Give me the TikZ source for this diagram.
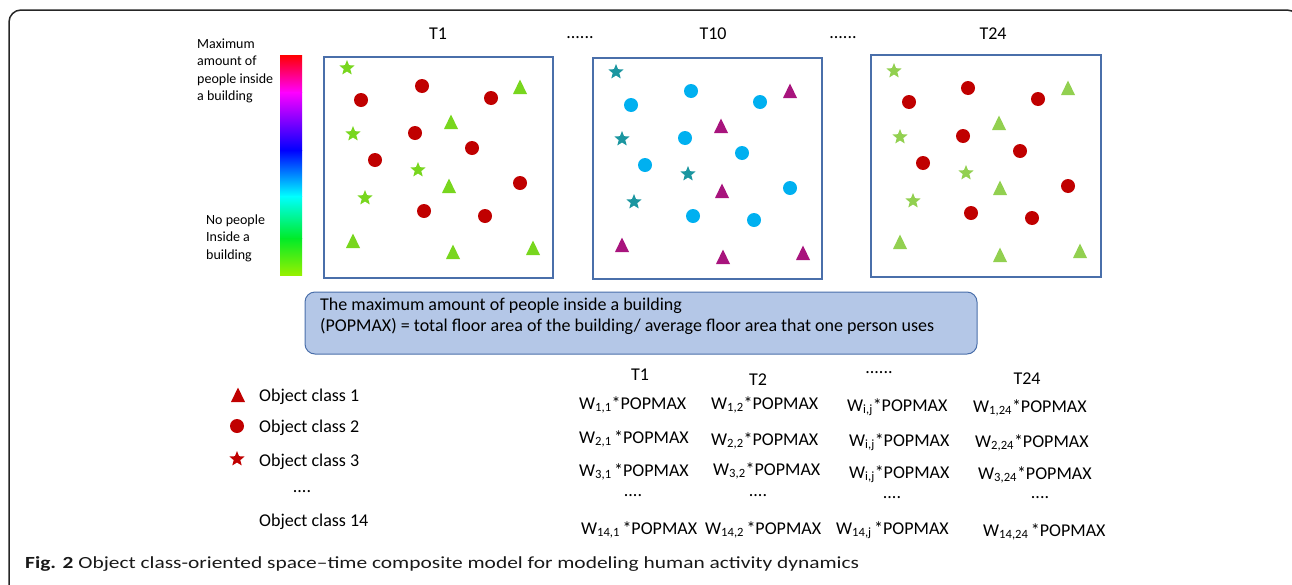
\documentclass[tikz,border=0pt]{standalone}
\usepackage{fontspec}
\setmainfont{Carlito}
\newfontfamily\capfont[FakeStretch=1.26]{Carlito}
\usetikzlibrary{shapes.geometric}
\definecolor{cred}{RGB}{192,0,0}
\definecolor{climeA}{RGB}{120,214,30}
\definecolor{climeB}{RGB}{146,208,80}
\definecolor{cteal}{RGB}{27,150,160}
\definecolor{ccyan}{RGB}{0,176,240}
\definecolor{cmag}{RGB}{168,20,125}
\definecolor{cframe}{RGB}{74,111,170}
\definecolor{cfill}{RGB}{180,199,231}
\definecolor{cbar1}{RGB}{255,0,0}
\definecolor{cbar2}{RGB}{255,0,255}
\definecolor{cbar3}{RGB}{0,0,255}
\definecolor{cbar4}{RGB}{0,255,255}
\definecolor{cbar5}{RGB}{0,235,40}
\definecolor{cbar6}{RGB}{150,240,0}
\newcommand\mytri[3]{\fill[#3] (#1-7,#2+7) -- (#1+7,#2+7) -- (#1,#2-7.5) -- cycle;}
\newcommand\mycirc[3]{\fill[#3] (#1,#2) circle[radius=7];}
\newcommand\mystar[3]{\node[starshape, fill=#3] at (#1,#2) {};}
\newcommand\mygap{\kern2.5pt}
\tikzset{
  starshape/.style={star, star points=5, star point ratio=2.3, inner sep=0pt, minimum size=16pt, draw=none},
  bigtxt/.style={font=\fontsize{18}{21}\selectfont, inner sep=0pt},
  smalltxt/.style={font=\fontsize{14}{17.5}\selectfont, inner sep=0pt, align=left},
  panel/.style={draw=cframe, line width=1.3pt},
}
\begin{document}
\begin{tikzpicture}[x=1pt,y=-1pt]
\useasboundingbox (0,0) rectangle (1292,584);
% outer frame
\draw[line width=1.5pt, black!85, rounded corners=12pt] (9,620) -- (9,10) -- (1299,10) -- (1299,620);
% colour bar
\shade[top color=cbar1, bottom color=cbar2] (280,55) rectangle (302,92.5);
\shade[top color=cbar2, bottom color=cbar3] (280,92) rectangle (302,150.5);
\shade[top color=cbar3, bottom color=cbar4] (280,150) rectangle (302,196.5);
\shade[top color=cbar4, bottom color=cbar5] (280,196) rectangle (302,238.5);
\shade[top color=cbar5, bottom color=cbar6] (280,238) rectangle (302,275);
\node[smalltxt, anchor=west] (maxlab) at (197,71) {Maximum\\amount of\\people inside\\a building};
\node[smalltxt, anchor=west] (nolab) at (206,238) {No people\\Inside a\\building};
% titles
\node[bigtxt] (t1) at (438,34) {T1};
\node[bigtxt, anchor=base] (d1) at (580,38) {......};
\node[bigtxt] (t10) at (713,34) {T10};
\node[bigtxt, anchor=base] (d2) at (843,38) {......};
\node[bigtxt] (t24) at (993,34) {T24};
% panels
\draw[panel] (324,57) rectangle (553,278);
\draw[panel] (593,58) rectangle (822,279);
\draw[panel] (871,55) rectangle (1101,277);
% T1 panel
\mystar{347}{68}{climeA}\mystar{353}{134}{climeA}\mystar{418}{170}{climeA}\mystar{365}{198}{climeA}
\mycirc{422}{86}{cred}\mycirc{361}{100}{cred}\mycirc{491}{98}{cred}\mycirc{415}{133}{cred}
\mycirc{472}{148}{cred}\mycirc{375}{160}{cred}\mycirc{520}{183}{cred}\mycirc{424}{211}{cred}\mycirc{485}{216}{cred}
\mytri{520}{87}{climeA}\mytri{451}{122}{climeA}\mytri{449}{186}{climeA}
\mytri{353}{241}{climeA}\mytri{453}{252}{climeA}\mytri{533}{248}{climeA}
% T10 panel
\mystar{616}{72}{cteal}\mystar{622}{139}{cteal}\mystar{688}{174}{cteal}\mystar{634}{202}{cteal}
\mycirc{691}{91}{ccyan}\mycirc{631}{105}{ccyan}\mycirc{760}{102}{ccyan}\mycirc{685}{138}{ccyan}
\mycirc{742}{153}{ccyan}\mycirc{645}{165}{ccyan}\mycirc{790}{188}{ccyan}\mycirc{693}{216}{ccyan}\mycirc{754}{220}{ccyan}
\mytri{790}{91}{cmag}\mytri{721}{126}{cmag}\mytri{722}{191}{cmag}
\mytri{622}{245}{cmag}\mytri{723}{257}{cmag}\mytri{803}{253}{cmag}
% T24 panel
\mystar{894}{71}{climeB}\mystar{900}{137}{climeB}\mystar{966}{173}{climeB}\mystar{913}{201}{climeB}
\mycirc{968}{88}{cred}\mycirc{909}{102}{cred}\mycirc{1038}{99}{cred}\mycirc{963}{136}{cred}
\mycirc{1020}{151}{cred}\mycirc{923}{163}{cred}\mycirc{1068}{186}{cred}\mycirc{971}{213}{cred}\mycirc{1032}{218}{cred}
\mytri{1068}{88}{climeB}\mytri{999}{123}{climeB}\mytri{1000}{188}{climeB}
\mytri{900}{242}{climeB}\mytri{1000}{255}{climeB}\mytri{1080}{251}{climeB}
% definition box
\draw[draw=cframe, fill=cfill, line width=1pt, rounded corners=10pt] (305,292) rectangle (977,354);
\node[bigtxt, anchor=west, align=left] (popdef) at (320,316) {The maximum amount of people inside a building\\(POPMAX) = total floor area of the building/ average floor area that one person uses};
% legend
\mytri{238}{395}{cred}
\mycirc{237}{426}{cred}
\mystar{237}{459}{cred}
\node[bigtxt, anchor=base west] (oc1) at (259,401) {Object class 1};
\node[bigtxt, anchor=base west] (oc2) at (259,432) {Object class 2};
\node[bigtxt, anchor=base west] (oc3) at (259,466) {Object class 3};
\node[bigtxt, anchor=base] (ocd) at (302,492) {....};
\node[bigtxt, anchor=base west] (oc14) at (259,526) {Object class 14};
% matrix headers
\node[bigtxt] (h1) at (640,375) {T1};
\node[bigtxt] (h2) at (758,380) {T2};
\node[bigtxt, anchor=base] (h3) at (879,373) {......};
\node[bigtxt] (h4) at (1027,379) {T24};
% rows
\node[bigtxt, anchor=base west] (r11) at (579,409) {W\textsubscript{1,1}*POPMAX};
\node[bigtxt, anchor=base west] (r12) at (711,409) {W\textsubscript{1,2}*POPMAX};
\node[bigtxt, anchor=base west] (r13) at (847,411) {W\textsubscript{i,j}*POPMAX};
\node[bigtxt, anchor=base west] (r14) at (973,412) {W\textsubscript{1,24}*POPMAX};
\node[bigtxt, anchor=base west] (r21) at (579,443) {W\textsubscript{2,1}\mygap*POPMAX};
\node[bigtxt, anchor=base west] (r22) at (711,445) {W\textsubscript{2,2}*POPMAX};
\node[bigtxt, anchor=base west] (r23) at (849,446) {W\textsubscript{i,j}*POPMAX};
\node[bigtxt, anchor=base west] (r24) at (975,447) {W\textsubscript{2,24}*POPMAX};
\node[bigtxt, anchor=base west] (r31) at (579,476) {W\textsubscript{3,1}\mygap*POPMAX};
\node[bigtxt, anchor=base west] (r32) at (713,475) {W\textsubscript{3,2}*POPMAX};
\node[bigtxt, anchor=base west] (r33) at (849,478) {W\textsubscript{i,j}*POPMAX};
\node[bigtxt, anchor=base west] (r34) at (978,479) {W\textsubscript{3,24}*POPMAX};
\node[bigtxt, anchor=base] (dd1) at (633,496) {....};
\node[bigtxt, anchor=base] (dd2) at (758,496) {....};
\node[bigtxt, anchor=base] (dd3) at (892,498) {....};
\node[bigtxt, anchor=base] (dd4) at (1040,498) {....};
\node[bigtxt, anchor=base west] (r51) at (581,534) {W\textsubscript{14,1}\mygap*POPMAX};
\node[bigtxt, anchor=base west] (r52) at (705,534) {W\textsubscript{14,2}\mygap*POPMAX};
\node[bigtxt, anchor=base west] (r53) at (836,534) {W\textsubscript{14,j}\mygap*POPMAX};
\node[bigtxt, anchor=base west] (r54) at (983,536) {W\textsubscript{14,24}\mygap*POPMAX};
% caption
\node[anchor=base west, inner sep=0pt, font=\capfont\fontsize{17}{20}\selectfont, text=black!90] (cap) at (25,568) {\textbf{Fig. 2} Object class-oriented space–time composite model for modeling human activity dynamics};
\end{tikzpicture}
\end{document}
